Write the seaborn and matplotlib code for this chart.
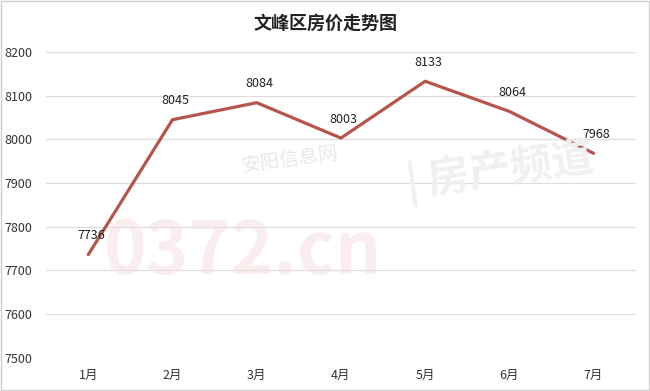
import matplotlib
matplotlib.use("Agg")
import matplotlib.pyplot as plt
import seaborn as sns
import pandas as pd

# data
months = ["1月", "2月", "3月", "4月", "5月", "6月", "7月"]
prices = [7736, 8045, 8084, 8003, 8133, 8064, 7968]
y_ticks = [7500, 7600, 7700, 7800, 7900, 8000, 8100, 8200]

sns.set_theme(style="white")
plt.rcParams['font.family'] = ['Noto Sans CJK SC', 'DejaVu Sans']

df = pd.DataFrame({"month": months, "price": prices})

fig = plt.figure(figsize=(6.5, 3.91), dpi=100)
ax = fig.add_axes([0.071, 0.085, 0.907, 0.782])

# faint watermark
fig.text(0.16, 0.30, "0372.cn", fontsize=52, fontweight="bold", color="#f6dde0",
         alpha=0.5, style="italic", zorder=0)
fig.text(0.37, 0.56, "安阳信息网", fontsize=14, color="#e8e8e8", rotation=8, zorder=0)
fig.text(0.62, 0.50, "| 房产频道", fontsize=30, fontweight="bold", color="#f0f0f0",
         rotation=8, zorder=0)

sns.lineplot(data=df, x="month", y="price", ax=ax, color="#b5554c",
             linewidth=2.3, sort=False)

for i, (m, p) in enumerate(zip(months, prices)):
    ax.annotate(str(p), (i, p), xytext=(2, 9), textcoords="offset points",
                ha="center", va="bottom", fontsize=9, color="#222222")

ax.set_xlim(-0.5, len(months) - 0.5)
ax.set_ylim(7500, 8200)
ax.set_yticks(y_ticks)
ax.yaxis.grid(True, color="#dddddd", linewidth=0.9)
ax.set_axisbelow(True)
for s in ax.spines.values():
    s.set_visible(False)
ax.set_xlabel("")
ax.set_ylabel("")
ax.tick_params(axis="both", length=0, labelsize=9, colors="#333333")
ax.tick_params(axis="y", pad=10)
ax.tick_params(axis="x", pad=8)
ax.patch.set_alpha(0)

fig.suptitle("文峰区房价走势图", y=0.965, fontsize=13, fontweight="bold", color="#222222")

fig.patches.append(plt.Rectangle((0.002, 0.003), 0.996, 0.994, transform=fig.transFigure,
                                 fill=False, edgecolor="#d0d0d0", linewidth=1))

fig.savefig("out.png", dpi=100)
